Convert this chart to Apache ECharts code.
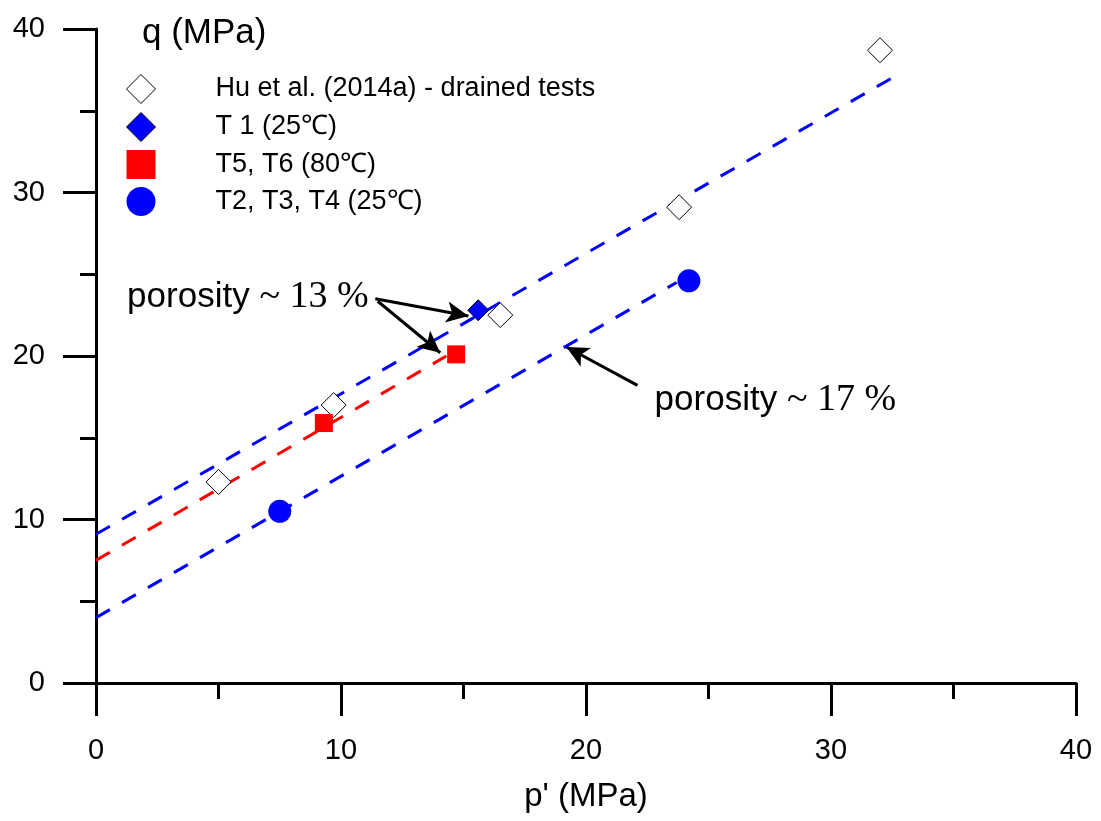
<!DOCTYPE html>
<html lang="en">
<head>
	<meta charset="UTF-8">
	<title>q - p' porosity</title>
	<style>
		html, body { margin: 0; padding: 0; background: #fff; }
	</style>
</head>
<body>
	<div id="main" style="width: 1101px;height: 821px"></div>
	<script src="https://cdn.jsdelivr.net/npm/echarts@6/dist/echarts.min.js"></script>
	<script>
		// data
		var huP = [5.0, 9.7, 16.5, 23.8, 32.0];
		var huQ = [12.3, 17.0, 22.5, 29.1, 38.7];
		var t1P = [15.6];
		var t1Q = [22.8];
		var t56P = [9.3, 14.7];
		var t56Q = [15.9, 20.1];
		var t234P = [7.5, 24.2];
		var t234Q = [10.5, 24.6];

		// dashed trend lines (end points)
		var fitUpper = [[0, 9.1], [32.6, 37.1]];
		var fitRed = [[0, 7.5], [14.3, 20.0]];
		var fitLower = [[0, 4.0], [23.7, 24.5]];

		var xTicks = [0, 10, 20, 30, 40];
		var yTicks = [0, 10, 20, 30, 40];

		// annotation arrows [from, to] in data units
		var arrows = [
			[[11.4, 23.5], [15.2, 22.45]],
			[[11.5, 23.35], [14.05, 20.2]],
			[[22.1, 18.2], [19.2, 20.55]]
		];

		function zip(a, b) {
			return a.map(function (v, i) { return [v, b[i]]; });
		}

		var sans = 'Liberation Sans, Arial, sans-serif';
		var serif = 'Liberation Serif, Times New Roman, serif';

		var myChart = echarts.init(document.getElementById('main'));
		var option = {
			animation: false,
			title: {
				text: 'q (MPa)',
				left: 137,
				top: 11,
				textStyle: { fontFamily: sans, fontSize: 35, fontWeight: 'normal', color: '#000' }
			},
			legend: {
				orient: 'vertical',
				left: 126,
				top: 74,
				padding: 0,
				itemWidth: 29,
				itemHeight: 29,
				itemGap: 8,
				selectedMode: false,
				textStyle: { fontFamily: sans, fontSize: 27, color: '#000', padding: [0, 0, 0, 55] },
				data: [
					{ name: 'Hu et al. (2014a) - drained tests', icon: 'diamond',
						itemStyle: { color: '#fff', borderColor: '#000', borderWidth: 1 } },
					{ name: 'T 1 (25℃)', icon: 'diamond',
						itemStyle: { color: '#0000ff', borderColor: '#000', borderWidth: 1 } },
					{ name: 'T5, T6 (80℃)', icon: 'rect',
						itemStyle: { color: '#ff0000', borderWidth: 0 } },
					{ name: 'T2, T3, T4 (25℃)', icon: 'circle',
						itemStyle: { color: '#0000ff', borderWidth: 0 } }
				]
			},
			grid: { left: 96, right: 25, top: 29, bottom: 138 },
			xAxis: {
				type: 'value',
				min: xTicks[0],
				max: xTicks[xTicks.length - 1],
				interval: 10,
				name: "p' (MPa)",
				nameLocation: 'middle',
				nameGap: 97,
				nameTextStyle: { fontFamily: sans, fontSize: 33, color: '#000' },
				axisLine: { lineStyle: { color: '#000', width: 3 } },
				axisTick: { length: 33, lineStyle: { color: '#000', width: 3 } },
				minorTick: { show: true, splitNumber: 2, length: 16, lineStyle: { color: '#000', width: 3 } },
				axisLabel: { margin: 53, fontFamily: sans, fontSize: 29, color: '#000' },
				splitLine: { show: false }
			},
			yAxis: {
				type: 'value',
				min: yTicks[0],
				max: yTicks[yTicks.length - 1],
				interval: 10,
				axisLine: { show: true, lineStyle: { color: '#000', width: 3 } },
				axisTick: { show: true, length: 33, lineStyle: { color: '#000', width: 3 } },
				minorTick: { show: true, splitNumber: 2, length: 16, lineStyle: { color: '#000', width: 3 } },
				axisLabel: { margin: 51, fontFamily: sans, fontSize: 29, color: '#000' },
				splitLine: { show: false }
			},
			series: [
				{
					type: 'line',
					data: fitUpper,
					symbol: 'none',
					z: 1,
					lineStyle: { color: '#0000ff', width: 3, type: [16, 14] },
					markLine: {
						silent: true,
						symbol: ['none', 'arrow'],
						symbolSize: [16, 22],
						label: { show: false },
						lineStyle: { color: '#000', width: 3, type: 'solid' },
						data: arrows.map(function (a) {
							return [{ coord: a[0] }, { coord: a[1] }];
						})
					},
					markPoint: {
						silent: true,
						symbol: 'circle',
						symbolSize: 0,
						label: {
							show: true,
							position: 'right',
							distance: 0,
							color: '#000',
							formatter: function (p) { return p.name; },
							rich: {
								a: { fontFamily: sans, fontSize: 35, color: '#000' },
								b: { fontFamily: serif, fontSize: 38, color: '#000' }
							}
						},
						data: [
							{ name: '{a|porosity }{b|~ 13 %}', coord: [1.27, 23.6] },
							{ name: '{a|porosity }{b|~ 17 %}', coord: [22.8, 17.3] }
						]
					}
				},
				{
					type: 'line',
					data: fitRed,
					symbol: 'none',
					z: 1,
					lineStyle: { color: '#ff0000', width: 3, type: [16, 14] }
				},
				{
					type: 'line',
					data: fitLower,
					symbol: 'none',
					z: 1,
					lineStyle: { color: '#0000ff', width: 3, type: [16, 14] }
				},
				{
					name: 'Hu et al. (2014a) - drained tests',
					type: 'scatter',
					data: zip(huP, huQ),
					symbol: 'diamond',
					symbolSize: 25,
					z: 5,
					itemStyle: { color: '#fff', borderColor: '#000', borderWidth: 1, opacity: 1 }
				},
				{
					name: 'T 1 (25℃)',
					type: 'scatter',
					data: zip(t1P, t1Q),
					symbol: 'diamond',
					symbolSize: 21,
					z: 6,
					itemStyle: { color: '#0000ff', borderColor: '#000', borderWidth: 1, opacity: 1 }
				},
				{
					name: 'T5, T6 (80℃)',
					type: 'scatter',
					data: zip(t56P, t56Q),
					symbol: 'rect',
					symbolSize: 18,
					z: 6,
					itemStyle: { color: '#ff0000', opacity: 1 }
				},
				{
					name: 'T2, T3, T4 (25℃)',
					type: 'scatter',
					data: zip(t234P, t234Q),
					symbol: 'circle',
					symbolSize: 23,
					z: 6,
					itemStyle: { color: '#0000ff', opacity: 1 }
				}
			]
		};

		myChart.setOption(option);
	</script>
</body>
</html>
